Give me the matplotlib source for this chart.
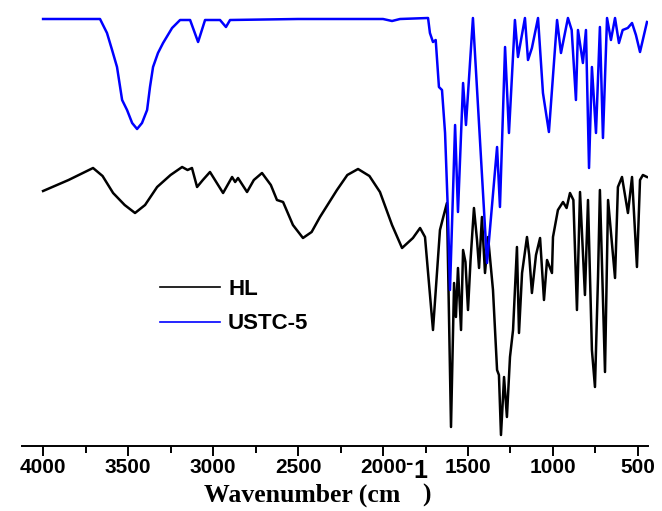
"""IR spectra of HL and USTC-5 (transmittance, a.u.)"""

import matplotlib

matplotlib.use("Agg")
import matplotlib.pyplot as plt
from matplotlib.ticker import MultipleLocator

# HL spectrum: wavenumber (cm-1) and transmittance (a.u.)
hl_wn = [
    4000, 3850, 3706, 3650, 3588, 3520, 3459, 3400, 3329, 3250, 3182, 3150,
    3124, 3094, 3060, 3018, 2941, 2888, 2870, 2853, 2800, 2760, 2712, 2660,
    2624, 2588, 2530, 2471, 2420, 2371, 2271, 2210, 2147, 2080, 2018,
    1947, 1888, 1824, 1782, 1753, 1706, 1665, 1647, 1624, 1600, 1582, 1571,
    1559, 1541, 1529, 1515, 1500, 1485, 1465, 1447, 1435, 1418, 1400, 1382,
    1353, 1329, 1318, 1306, 1295, 1288, 1271, 1253, 1235, 1212, 1200, 1182,
    1153, 1140, 1124, 1100, 1076, 1053, 1035, 1006, 1000, 971, 941, 920,
    900, 880, 859, 841, 812, 794, 771, 753, 735, 724, 694, 676,
    635, 618, 594, 559, 535, 506, 488, 471, 447,
]
hl_t = [
    255, 266, 278, 270, 253, 241, 233, 241, 259, 271, 279, 276,
    278, 259, 266, 274, 253, 269, 264, 268, 254, 266, 273, 261,
    246, 244, 221, 208, 214, 229, 256, 271, 277, 270, 254,
    221, 198, 208, 218, 209, 116, 216, 228, 243, 19, 163, 129,
    178, 116, 196, 184, 136, 186, 238, 206, 178, 229, 173, 209,
    156, 76, 71, 11, 46, 69, 29, 89, 116, 199, 113, 173,
    209, 191, 153, 191, 208, 146, 186, 173, 209, 236, 244, 238,
    253, 246, 136, 254, 151, 246, 96, 59, 169, 256, 74, 246,
    168, 259, 269, 233, 269, 179, 266, 271, 269,
]

# USTC-5 spectrum
ustc_wn = [
    4000, 3665, 3624, 3594, 3565, 3535, 3506, 3476, 3447, 3418, 3388, 3371,
    3353, 3324, 3294, 3241, 3194, 3135, 3088, 3047, 2959, 2924, 2900, 2500,
    2000, 1947, 1900, 1735, 1724, 1706, 1690, 1671, 1653, 1635, 1618, 1606,
    1576, 1559, 1529, 1512, 1471, 1388, 1329, 1312, 1282, 1259, 1224, 1206,
    1165, 1147, 1124, 1088, 1059, 1024, 976, 953, 912, 890, 865, 853,
    824, 806, 788, 771, 747, 724, 706, 682, 659, 635, 612, 590,
    560, 535, 512, 488, 447,
]
ustc_t = [
    427, 427, 413, 396, 379, 346, 336, 323, 317, 323, 336, 359,
    379, 393, 403, 418, 426, 426, 404, 426, 426, 419, 426, 427,
    427, 425, 427, 428, 413, 404, 406, 359, 356, 313, 233, 156,
    321, 234, 363, 321, 428, 183, 299, 239, 399, 313, 426, 389,
    428, 386, 398, 428, 353, 314, 426, 393, 428, 416, 346, 416,
    383, 416, 278, 379, 313, 419, 308, 428, 406, 428, 403, 416,
    418, 423, 411, 394, 424,
]

labels = ["HL", "USTC-5"]
colors = ["black", "#0000ff"]

fig = plt.figure(figsize=(6.62, 5.11), dpi=100)
ax = fig.add_axes([22 / 662, 65 / 511, 626 / 662, 446 / 511])

ax.plot(hl_wn, hl_t, color=colors[0], lw=1.8, label=labels[0])
ax.plot(ustc_wn, ustc_t, color=colors[1], lw=1.8, label=labels[1])

ax.set_xlim(4124, 441)
ax.set_ylim(0, 446)

for side in ["top", "right", "left"]:
    ax.spines[side].set_visible(False)
ax.spines["bottom"].set_linewidth(1.4)
ax.set_yticks([])

ax.xaxis.set_major_locator(MultipleLocator(500))
ax.xaxis.set_minor_locator(MultipleLocator(250))
ax.tick_params(axis="x", which="major", direction="out", length=7, width=1.4, pad=1.5)
ax.tick_params(axis="x", which="minor", direction="out", length=5, width=1.4)
for lab in ax.get_xticklabels():
    lab.set_fontfamily("Liberation Sans")
    lab.set_fontweight("bold")
    lab.set_fontsize(15)

leg = ax.legend(
    loc="upper left",
    bbox_to_anchor=((160 - 22) / 626, (446 - 279) / 446),
    frameon=False,
    borderpad=0,
    borderaxespad=0,
    handlelength=2.7,
    handletextpad=0.36,
    labelspacing=0.6,
    prop={"family": "Liberation Sans", "weight": "bold", "size": 16},
)
for line in leg.get_lines():
    line.set_linewidth(1.2)

# x label: serif text with a sans superscript, as in the original figure
fig.text(204 / 662, 1 - 502 / 511, "Wavenumber (cm", ha="left", va="baseline",
         family="Liberation Serif", weight="bold", fontsize=18.5)
fig.text(405 / 662, 1 - 469 / 511, "-", ha="left", va="baseline",
         family="Liberation Sans", weight="bold", fontsize=16)
fig.text(413 / 662, 1 - 478 / 511, "1", ha="left", va="baseline",
         family="Liberation Sans", weight="bold", fontsize=18)
fig.text(422 / 662, 1 - 502 / 511, ")", ha="left", va="baseline",
         family="Liberation Serif", weight="bold", fontsize=18.5)

fig.savefig("out.png", dpi=100, facecolor="white")
